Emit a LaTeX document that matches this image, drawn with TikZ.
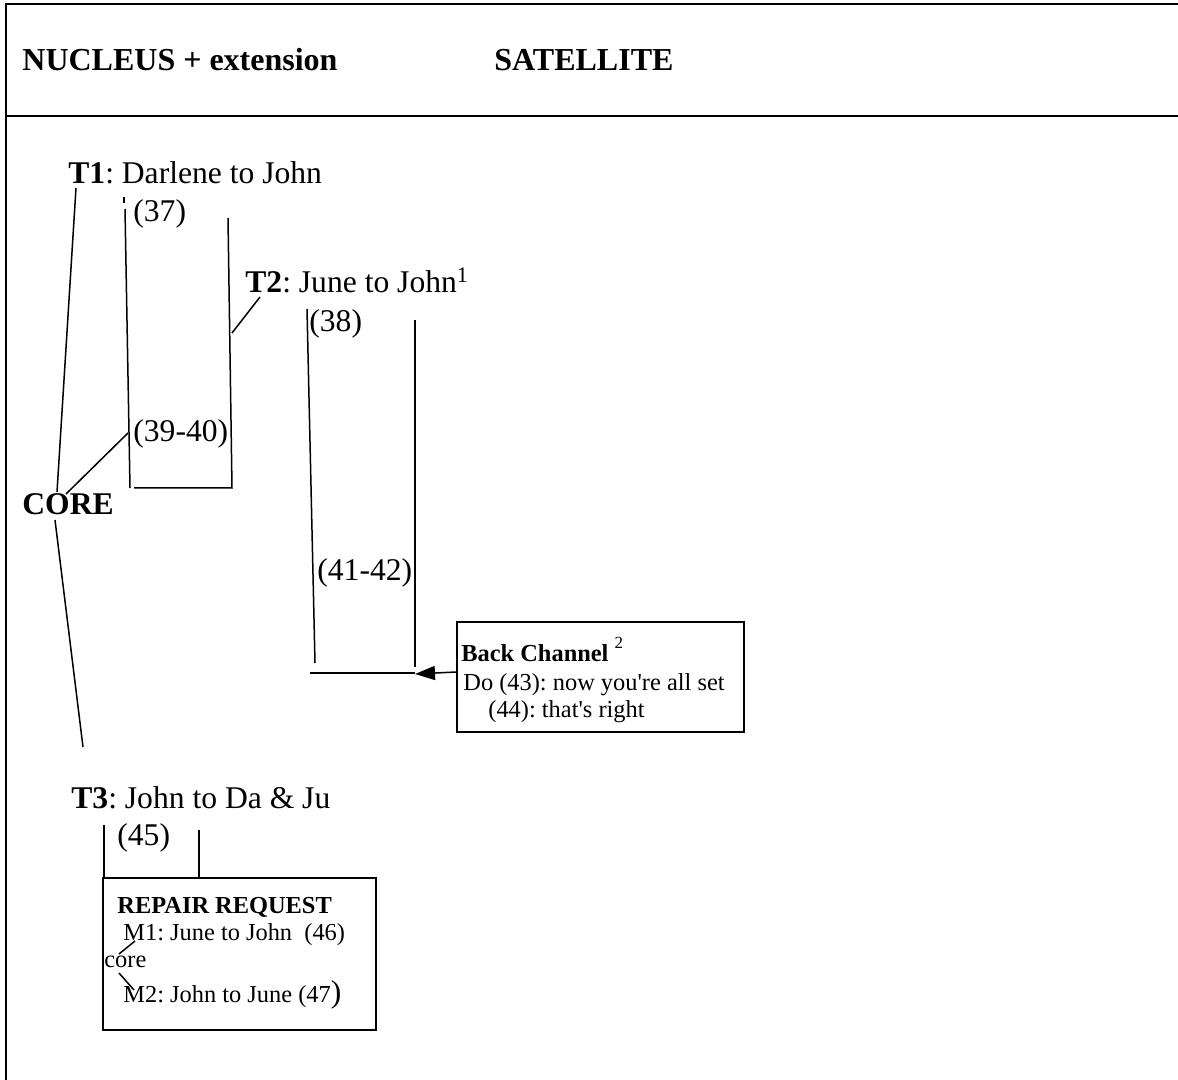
\documentclass[tikz,border=0pt]{standalone}
\usepackage{fontspec}
\setmainfont{Liberation Serif}[Ligatures=TeXOff]
\usetikzlibrary{arrows.meta}
\begin{document}
\frenchspacing
\begin{tikzpicture}[x=0.5pt,y=-0.5pt,
  txt/.style={anchor=base west, inner sep=0pt, font=\fontsize{15.8pt}{19pt}\selectfont},
  sml/.style={anchor=base west, inner sep=0pt, font=\fontsize{12.2pt}{14.6pt}\selectfont},
  hdr/.style={anchor=base west, inner sep=0pt, font=\fontsize{16pt}{19pt}\selectfont\bfseries},
  framel/.style={line width=1pt},
  link/.style={line width=0.75pt},
  boxl/.style={draw, line width=1pt, inner sep=0pt, anchor=north west}]
\useasboundingbox (0,0) rectangle (1178,1080);
% frame
\coordinate (fTR) at (1178,4);
\coordinate (fTL) at (6,4);
\coordinate (fBL) at (6,1080);
\coordinate (sL) at (6,116);
\coordinate (sR) at (1178,116);
\draw[framel] (fTR) -- (fTL) -- (fBL);
\draw[framel] (sL) -- (sR);
% header
\node[hdr] (nuc) at (22,71) {NUCLEUS + extension};
\node[hdr] (sat) at (494,71) {SATELLITE};
% texts
\node[txt] (t1) at (68,184) {\textbf{T1}: Darlene to John};
\node[txt] (n37) at (133,222) {(37)};
\node[txt] (t2) at (245,293) {\textbf{T2}: June to John\textsuperscript{1}};
\node[txt] (n38) at (309,332) {(38)};
\node[txt] (n3940) at (133,442) {(39-40)};
\node[txt] (core) at (22,515) {\textbf{CORE}};
\node[txt] (n4142) at (317,580) {(41-42)};
\node[txt] (t3) at (71,808) {\textbf{T3}: John to Da \& Ju};
\node[txt] (n45) at (117,845) {(45)};
% core links
\coordinate (c1a) at (76,188); \coordinate (c1b) at (57,492);
\coordinate (c2a) at (55,520); \coordinate (c2b) at (83,747);
\coordinate (c3a) at (66,494); \coordinate (c3b) at (128,433);
\draw[link] (c1a) -- (c1b);
\draw[link] (c2a) -- (c2b);
\draw[link] (c3a) -- (c3b);
% T1 bracket
\coordinate (tk1) at (124,197); \coordinate (tk2) at (124,203);
\coordinate (b1a) at (125,209); \coordinate (b1b) at (130,488);
\coordinate (b1c) at (134,488); \coordinate (b1d) at (232,488);
\coordinate (b1e) at (228,218);
\draw[link] (tk1) -- (tk2);
\draw[link] (b1a) -- (b1b);
\draw[link] (b1c) -- (b1d) -- (b1e);
% T2 link
\coordinate (t2a) at (260,297); \coordinate (t2b) at (232,333);
\draw[link] (t2a) -- (t2b);
% T2 bracket
\coordinate (b2a) at (307,309); \coordinate (b2b) at (315,663);
\coordinate (b2c) at (415,320); \coordinate (b2d) at (415,667);
\coordinate (b2e) at (310,673); \coordinate (b2f) at (415,673);
\draw[link] (b2a) -- (b2b);
\draw[link] (b2c) -- (b2d);
\draw[link] (b2e) -- (b2f);
% back channel box
\node[boxl, minimum width=143.5pt, minimum height=55pt] (bc) at (456,621) {};
\coordinate (bcw) at (456,672);
\coordinate (arrtip) at (415,674);
\draw[link, -{Triangle[length=10pt,width=7pt]}] (bcw) -- (arrtip);
\node[sml] (bct) at (461,661) {\textbf{Back Channel} \raisebox{6.5pt}{\fontsize{8.5pt}{9pt}\selectfont 2}};
\node[sml] (bc1) at (463,690) {Do (43): now you're all set};
\node[sml] (bc2) at (488,717) {(44): that's right};
% T3 bracket and repair box
\coordinate (b3a) at (104,825); \coordinate (b3b) at (104,877);
\coordinate (b3c) at (199,830); \coordinate (b3d) at (199,877);
\draw[link] (b3a) -- (b3b);
\draw[link] (b3c) -- (b3d);
\node[boxl, minimum width=136.5pt, minimum height=76pt] (rr) at (102,877) {};
\node[sml] (rrt) at (117,913) {\textbf{REPAIR REQUEST}};
\node[sml] (m1) at (123,940) {M1: June to John~~(46)};
\node[sml] (rcore) at (104,967) {core};
\node[sml] (m2) at (123,1002) {M2: John to June (47{\fontsize{15.8pt}{19pt}\selectfont)}};
\coordinate (m1a) at (119,954); \coordinate (m1b) at (135,941);
\coordinate (m2a) at (119,973); \coordinate (m2b) at (134,990);
\draw[link] (m1a) -- (m1b);
\draw[link] (m2a) -- (m2b);
\end{tikzpicture}
\end{document}
